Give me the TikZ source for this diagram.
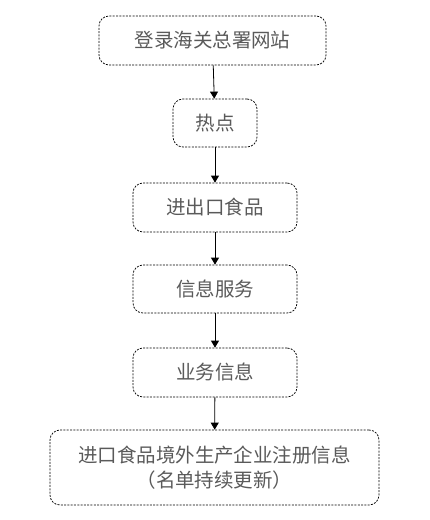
\documentclass[tikz,border=0pt]{standalone}
\usepackage{fontspec}
\setmainfont{Noto Sans CJK SC}
\usetikzlibrary{arrows.meta}
\definecolor{txt}{HTML}{5A5A5A}
\tikzset{
  box/.style={draw=black, line width=0.75pt, dash pattern=on 2pt off 1.3pt, rounded corners=10pt, text=txt, font=\fontsize{19.5}{25}\selectfont, align=center, inner sep=0pt},
  conn/.style={line width=0.8pt, -{Triangle[length=7pt,width=8pt]}}
}
\begin{document}
\begin{tikzpicture}[x=1pt,y=-1pt]
\useasboundingbox (0,0) rectangle (430,520);
\node[box, minimum width=227pt, minimum height=49pt] (a) at (212.5,40.5) {登录海关总署网站};
\node[box, minimum width=84pt, minimum height=48pt] (b) at (215,123) {热点};
\node[box, minimum width=164pt, minimum height=49pt] (c) at (215,207.5) {进出口食品};
\node[box, minimum width=164pt, minimum height=48pt] (d) at (215,289) {信息服务};
\node[box, minimum width=164pt, minimum height=49pt] (e) at (215,372.5) {业务信息};
\node[box, minimum width=329pt, minimum height=75pt] (f) at (214.5,467.5) {进口食品境外生产企业注册信息\\（名单持续更新）};
\draw[conn] (a) -- (b);
\draw[conn] (b) -- (c);
\draw[conn] (c) -- (d);
\draw[conn] (d) -- (e);
\draw[conn] (e) -- (f);
\end{tikzpicture}
\end{document}
